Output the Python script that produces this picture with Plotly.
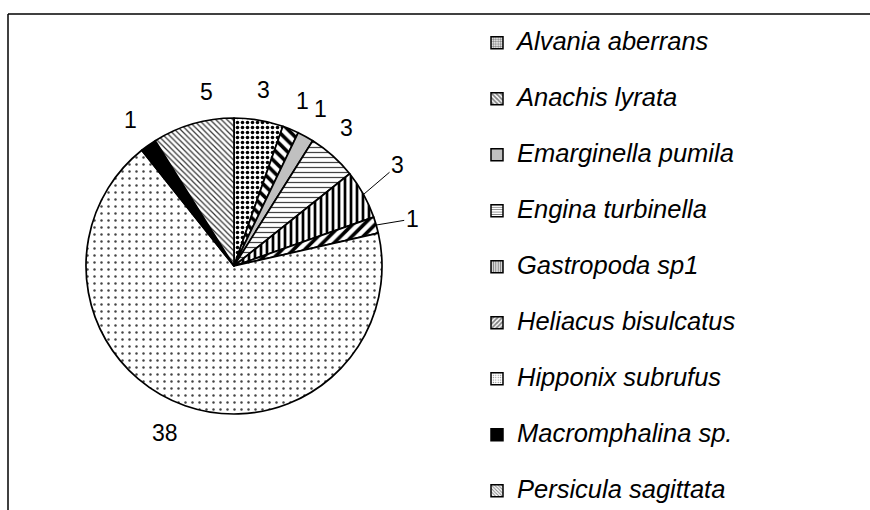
import math

import plotly.graph_objects as go

# species counts, read clockwise from 12 o'clock
species = [
    "Alvania aberrans",
    "Anachis lyrata",
    "Emarginella pumila",
    "Engina turbinella",
    "Gastropoda sp1",
    "Heliacus bisulcatus",
    "Hipponix subrufus",
    "Macromphalina sp.",
    "Persicula sagittata",
]
counts = [3, 1, 1, 3, 3, 1, 38, 1, 5]

# fill style for each slice (black/white hatching like the original)
FILL = ["white", "white", "#c0c0c0", "white", "white", "white", "white", "black", "white"]
SHAPES = [".", "\\", "", "-", "|", "/", ".", "", "\\"]
SIZES = [5, 8, 6, 5, 6, 8, 7, 6, 4]
SOLID = [0.4, 0.45, 0.3, 0.25, 0.45, 0.45, 0.1, 0.3, 0.3]
FG = ["black", "black", "black", "#444444", "black", "black", "#444444", "black", "#333333"]

FONT = "Liberation Sans, Arial, sans-serif"
W, H = 870, 510

# pie placement in pixels
cx, cy, r = 234, 266, 148
LABEL_DIST = 179
# labels that sit further out with a leader line: pixel offset from the rim
LEADERS = {"Gastropoda sp1": (34, -29), "Heliacus bisulcatus": (36, -6)}
# small hand nudges of some free labels (pixels)
NUDGE = {"Persicula sagittata": (22, -2), "Engina turbinella": (-7, -5),
         "Hipponix subrufus": (-10, -2)}

fig = go.Figure()

fig.add_trace(
    go.Pie(
        labels=species,
        values=counts,
        sort=False,
        direction="clockwise",
        rotation=0,
        textinfo="none",
        marker=dict(
            colors=FILL,
            line=dict(color="black", width=1.7),
            pattern=dict(
                shape=SHAPES,
                size=SIZES,
                solidity=SOLID,
                fgcolor=FG,
                bgcolor=FILL,
            ),
        ),
        domain=dict(
            x=[(cx - r) / W, (cx + r) / W],
            y=[1 - (cy + r) / H, 1 - (cy - r) / H],
        ),
        showlegend=False,
        hoverinfo="label+value",
    )
)

# value labels around the pie, at each slice's mid angle
total = sum(counts)
before = 0
for name, v in zip(species, counts):
    ang = math.radians((before + v / 2) / total * 360)
    before += v
    dx, dy = math.sin(ang), -math.cos(ang)
    if name in LEADERS:
        ox, oy = LEADERS[name]
        fig.add_annotation(
            x=(cx + r * dx) / W, y=1 - (cy + r * dy) / H,
            xref="paper", yref="paper",
            text=str(v), showarrow=True, arrowhead=0, arrowwidth=1,
            arrowcolor="black", ax=ox, ay=oy, standoff=0,
            font=dict(family=FONT, size=23, color="black"),
        )
    else:
        nx, ny = NUDGE.get(name, (0, 0))
        fig.add_annotation(
            x=(cx + LABEL_DIST * dx + nx) / W,
            y=1 - (cy + LABEL_DIST * dy + ny) / H,
            xref="paper", yref="paper", xanchor="center", yanchor="middle",
            text=str(v), showarrow=False,
            font=dict(family=FONT, size=23, color="black"),
        )

# legend entries, one group each so the rows can be spaced out
for i, name in enumerate(species):
    fig.add_trace(
        go.Bar(
            x=[None],
            y=[None],
            name=f'<span style="font-size:25.5px">{name}</span>',
            legendgroup=name,
            marker=dict(
                color=FILL[i],
                line=dict(color="black", width=1.5),
                pattern=dict(
                    shape=SHAPES[i],
                    size=max(3, SIZES[i] // 2),
                    solidity=min(0.6, SOLID[i] + 0.1),
                    fgcolor="black",
                    bgcolor=FILL[i],
                ),
            ),
        )
    )

# frame lines (top and left edge of the chart box)
fig.add_shape(type="line", xref="paper", yref="paper",
              x0=8 / W, x1=1, y0=1 - 14 / H, y1=1 - 14 / H,
              line=dict(color="black", width=1.5))
fig.add_shape(type="line", xref="paper", yref="paper",
              x0=8 / W, x1=8 / W, y0=0, y1=1 - 14 / H,
              line=dict(color="black", width=1.5))

fig.update_layout(
    width=W,
    height=H,
    margin=dict(l=0, r=0, t=0, b=0),
    paper_bgcolor="white",
    plot_bgcolor="white",
    xaxis=dict(visible=False),
    yaxis=dict(visible=False),
    showlegend=True,
    legend=dict(
        x=477 / W,
        y=1 - 28.5 / H,
        xanchor="left",
        yanchor="top",
        font=dict(family=FONT, size=19, color="black", style="italic"),
        tracegroupgap=28.3,
        bgcolor="rgba(0,0,0,0)",
    ),
)

fig.write_html(
    "out.html",
    config={"displayModeBar": False},
    post_script="document.body.style.margin='0';",
)
